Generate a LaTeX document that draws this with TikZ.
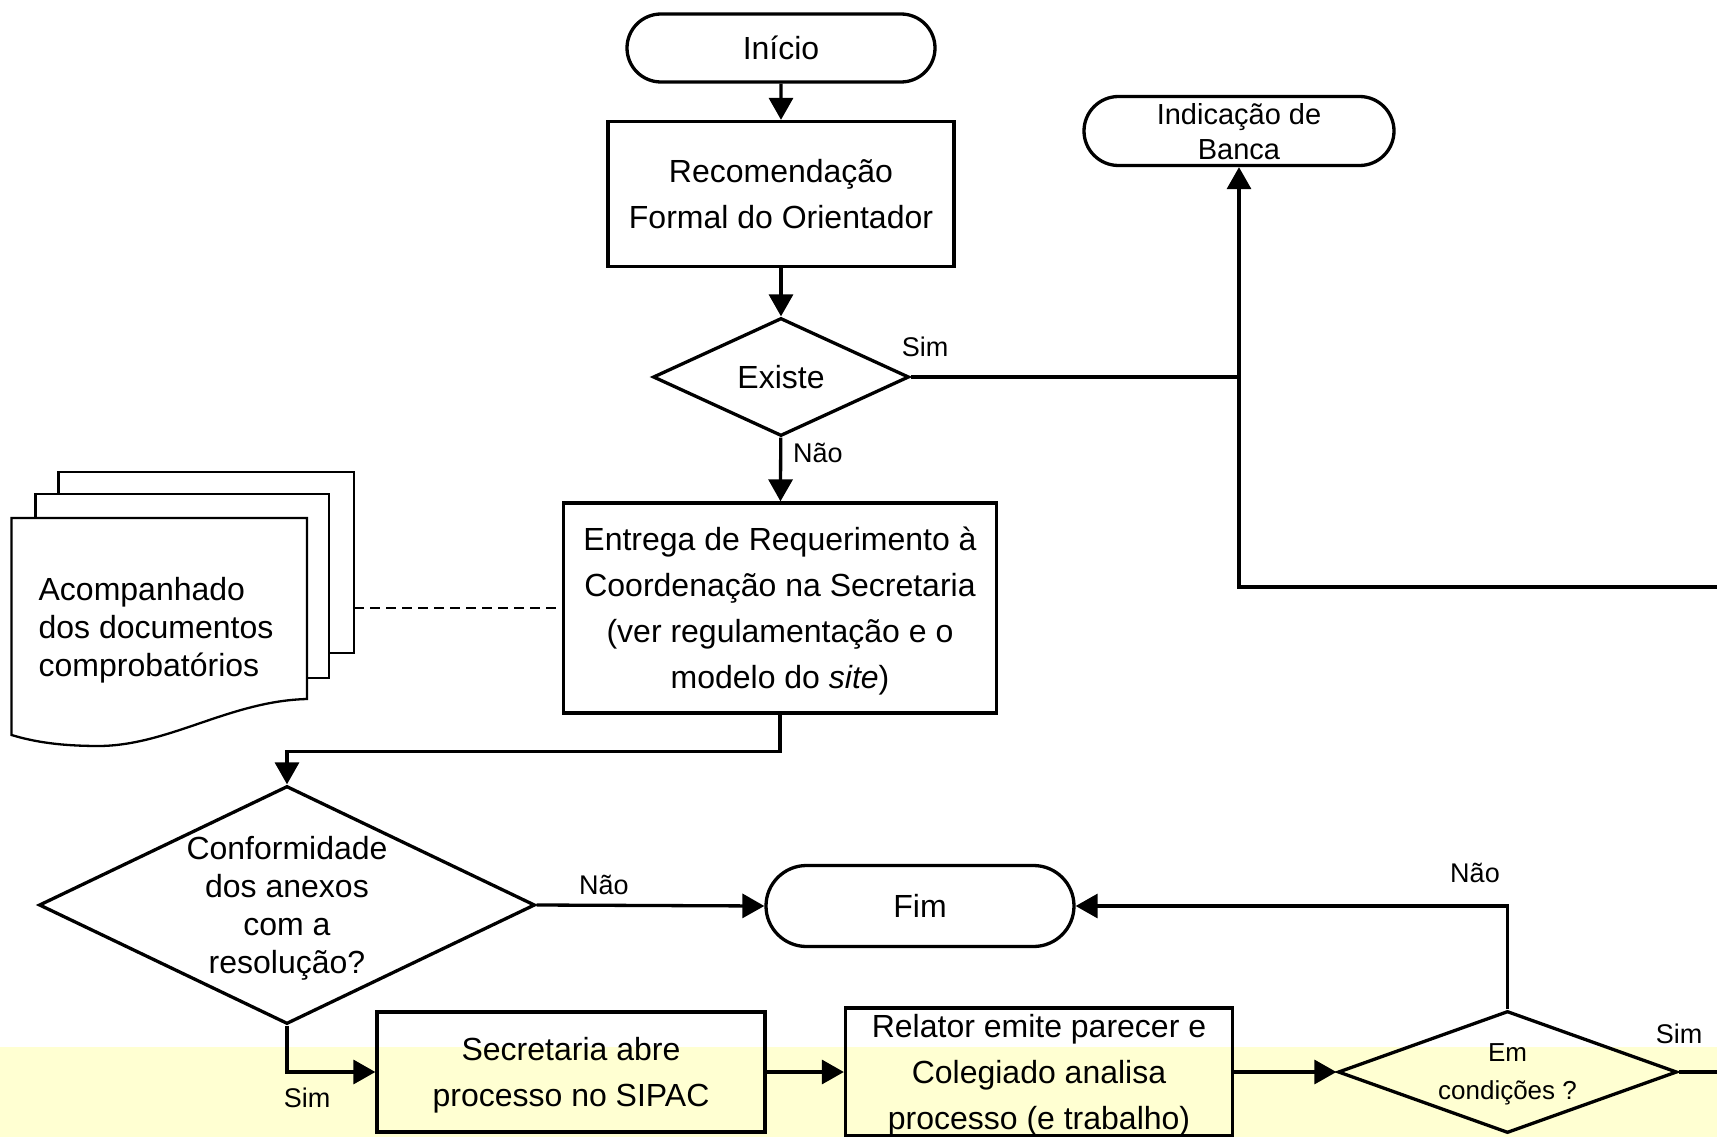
\documentclass[tikz,border=0pt]{standalone}
\usepackage{fontspec}
\setmainfont{Liberation Sans}
\usetikzlibrary{shapes.geometric,shapes.misc,arrows.meta}
\definecolor{band}{HTML}{FFFFD2}
\newcommand{\myfs}[2]{\fontsize{#1}{#2}\selectfont}
\begin{document}
\begin{tikzpicture}[x=1pt,y=-1pt,
  line width=3.3pt,
  box/.style={draw, rectangle, line width=3.3pt, inner sep=0pt, align=center, font=\myfs{32}{46}},
  term/.style={draw, rounded rectangle, line width=3.3pt, inner sep=0pt, align=center, font=\myfs{32}{38}},
  dec/.style={draw, diamond, line width=3.3pt, inner sep=0pt},
  arr/.style={-{Triangle[length=22pt,width=24pt]}, line width=3.3pt},
  lbl/.style={font=\myfs{27}{32}, inner sep=0pt},
  doc/.style={draw, fill=white, line width=2.3pt},
]
\useasboundingbox (0,0) rectangle (1717,1137);
\fill[white] (0,0) rectangle (1717,1137);
\fill[band] (0,1047) rectangle (1717,1137);

% nodes
\node[term, minimum width=308pt, minimum height=68pt] (ini) at (781,48) {Início};
\node[box, minimum width=346pt, minimum height=145pt] (rec) at (781,194) {Recomendação\\Formal do Orientador};
\node[dec, minimum width=256pt, minimum height=118pt,
      label={[font=\myfs{32}{38}]center:Existe}] (ex) at (781,377) {};
\node[term, minimum width=310pt, minimum height=69pt,
      label={[font=\myfs{29}{35}, align=center, inner sep=0pt, yshift=-1pt]center:Indicação de\\Banca}] (ind) at (1239,131) {};
\node[box, text depth=0pt, minimum width=433pt, minimum height=210pt] (ent) at (780,608)
  {Entrega de Requerimento à\\Coordenação na Secretaria\\(ver regulamentação e o\\modelo do \textit{site})};
\node[dec, minimum width=496pt, minimum height=238pt,
      label={[font=\myfs{32}{38}, align=center, inner sep=0pt, yshift=-3pt]center:Conformidade\\dos anexos\\com a\\resolução?}] (conf) at (287,905) {};
\node[term, minimum width=308pt, minimum height=81pt] (fim) at (920,906) {Fim};
\node[box, text depth=0pt, minimum width=388pt, minimum height=120pt] (sec) at (571,1072) {Secretaria abre\\processo no SIPAC};
\node[box, text depth=0pt, minimum width=387pt, minimum height=128pt] (rel) at (1039,1072) {Relator emite parecer e\\Colegiado analisa\\processo (e trabalho)};
\node[dec, minimum width=339pt, minimum height=122pt,
      label={[font=\myfs{26}{38}, align=center, inner sep=0pt, yshift=-2pt]center:Em\\condições ?}] (emc) at (1507.5,1072) {};

% document stack
\filldraw[doc] (58.6,472) rectangle (354,653);
\filldraw[doc] (35.6,494) rectangle (329,678);
\filldraw[doc] (11.5,518) -- (307,518) -- (307,699)
  .. controls (230,701) and (170,745) .. (100,746)
  .. controls (60,746) and (35,742) .. (11.5,735) -- cycle;
\node[anchor=west, align=left, inner sep=0pt, font=\myfs{32}{38}] (doct) at (37,630) {Acompanhado\\dos documentos\\comprobatórios};
\coordinate (docR) at (354,608);

% connectors
\coordinate (redge) at (1717,587);
\coordinate (redge2) at (1717,1072);
\draw[arr] (ini) -- (rec);
\draw[arr] (rec) -- (ex);
\draw[arr] (ex) -- (ent);
\draw[arr] (redge) -| (ind.south);
\draw (ex.east) -- (ex.east -| ind.south);
\draw[dashed, line width=2.2pt, dash pattern=on 10pt off 6pt] (docR) -- (ent.west);
\draw[arr] (ent.south) -- ++(0,37) -| (conf.north);
\draw[arr] (conf.east) -- (fim.west);
\draw[arr] (conf.south) |- (sec.west);
\draw[arr] (sec.east) -- (rel.west);
\draw[arr] (rel.east) -- (emc.west);
\draw[arr] (emc.north) |- (fim.east);
\draw (emc.east) -- (redge2);

% labels
\node[lbl] (l1) at (925,347) {Sim};
\node[lbl] (l2) at (818,453) {Não};
\node[lbl] (l3) at (604,885) {Não};
\node[lbl] (l4) at (307,1098) {Sim};
\node[lbl] (l5) at (1475,873) {Não};
\node[lbl] (l6) at (1679,1034) {Sim};
\end{tikzpicture}
\end{document}
